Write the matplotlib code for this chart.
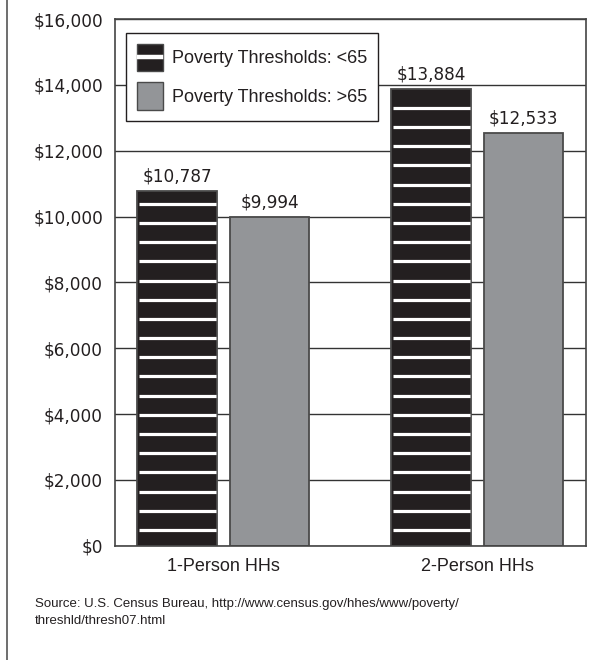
import numpy as np
import matplotlib
matplotlib.use('Agg')
import matplotlib.pyplot as plt
from matplotlib.patches import Patch, Rectangle
from matplotlib.lines import Line2D
from matplotlib.legend_handler import HandlerBase
from matplotlib.ticker import FuncFormatter

plt.rcParams['font.family'] = ['Liberation Sans', 'DejaVu Sans']

categories = ['1-Person HHs', '2-Person HHs']
under_65 = [10787, 13884]
over_65 = [9994, 12533]
series_labels = ['Poverty Thresholds: <65', 'Poverty Thresholds: >65']
y_ticks = [0, 2000, 4000, 6000, 8000, 10000, 12000, 14000, 16000]
source_note = ('Source: U.S. Census Bureau, http://www.census.gov/hhes/www/poverty/\n'
               'threshld/thresh07.html')

BLACK = '#231f20'
GREY = '#939598'
EDGE = '#4a4a4a'
FS = 13
NUM_FONT = ['DejaVu Sans']
NUM_FS = 12.2


class StripedHandler(HandlerBase):
    # black swatch with one white stripe through the middle
    def create_artists(self, legend, orig_handle, xdescent, ydescent,
                       width, height, fontsize, trans):
        r = Rectangle((-xdescent, -ydescent), width, height, facecolor=BLACK,
                      edgecolor=EDGE, linewidth=1, transform=trans)
        y = -ydescent + height / 2
        l = Line2D([-xdescent + 1.5, -xdescent + width - 1.5], [y, y],
                   color='white', linewidth=3.2, transform=trans)
        return [r, l]


fig = plt.figure(figsize=(6.03, 6.6), dpi=100)
ax = fig.add_axes([0.1907, 0.1732, 0.7811, 0.798])

x = np.arange(len(categories))
width = 0.313
offset = 0.182

bars_u = ax.bar(x - offset, under_65, width, color=BLACK, edgecolor=EDGE,
                linewidth=1.3, zorder=2)
bars_o = ax.bar(x + offset, over_65, width, color=GREY, edgecolor=EDGE,
                linewidth=1.3, zorder=2)

# white horizontal stripes on the black bars
step = 583
for rect in bars_u:
    x0 = rect.get_x()
    x1 = x0 + rect.get_width()
    ys = np.arange(477, rect.get_height() - 60, step)
    ax.hlines(ys, x0 + 0.005, x1 - 0.005, colors='white', linewidth=2.3, zorder=3)

# value labels
for rect, v in list(zip(bars_u, under_65)) + list(zip(bars_o, over_65)):
    ax.annotate('${:,}'.format(v), (rect.get_x() + rect.get_width() / 2, v),
                xytext=(0, 4), textcoords='offset points',
                ha='center', va='bottom', fontsize=NUM_FS, family=NUM_FONT,
                color='#231f20')

ax.set_ylim(0, 16000)
ax.set_xlim(-0.427, 1.428)
ax.set_yticks(y_ticks)
ax.yaxis.set_major_formatter(FuncFormatter(lambda v, p: '${:,.0f}'.format(v)))
ax.set_xticks(x)
ax.set_xticklabels(categories)
ax.tick_params(axis='y', length=0, pad=8.6, labelsize=NUM_FS, labelcolor='#231f20')
ax.tick_params(axis='x', length=0, pad=9, labelsize=FS, labelcolor='#231f20')
for lbl in ax.get_yticklabels():
    lbl.set_family(NUM_FONT)
ax.yaxis.grid(True, color='#333333', linewidth=1)
ax.set_axisbelow(True)
for s in ax.spines.values():
    s.set_color('#444444')
    s.set_linewidth(1.2)

striped = Patch(facecolor=BLACK)
handles = [striped, Patch(facecolor=GREY, edgecolor=EDGE, linewidth=1)]
leg = ax.legend(handles, series_labels, loc='upper left',
                bbox_to_anchor=(0.023, 0.974), borderaxespad=0,
                fontsize=FS, handlelength=1.47, handleheight=2.0,
                handletextpad=0.5, labelspacing=0.6, borderpad=0.6,
                fancybox=False, framealpha=1, edgecolor='#231f20',
                handler_map={striped: StripedHandler()})
leg.get_frame().set_linewidth(1)
for t in leg.get_texts():
    t.set_color('#231f20')

fig.text(35 / 603, 1 - 598 / 660, source_note, ha='left', va='top',
         fontsize=9.5, linespacing=1.6, color='#231f20')

# thin border line down the left side of the figure
fig.add_artist(Line2D([0.011, 0.011], [0, 1], transform=fig.transFigure,
                      color='#555555', linewidth=1.2))

fig.savefig('out.png', dpi=100)
